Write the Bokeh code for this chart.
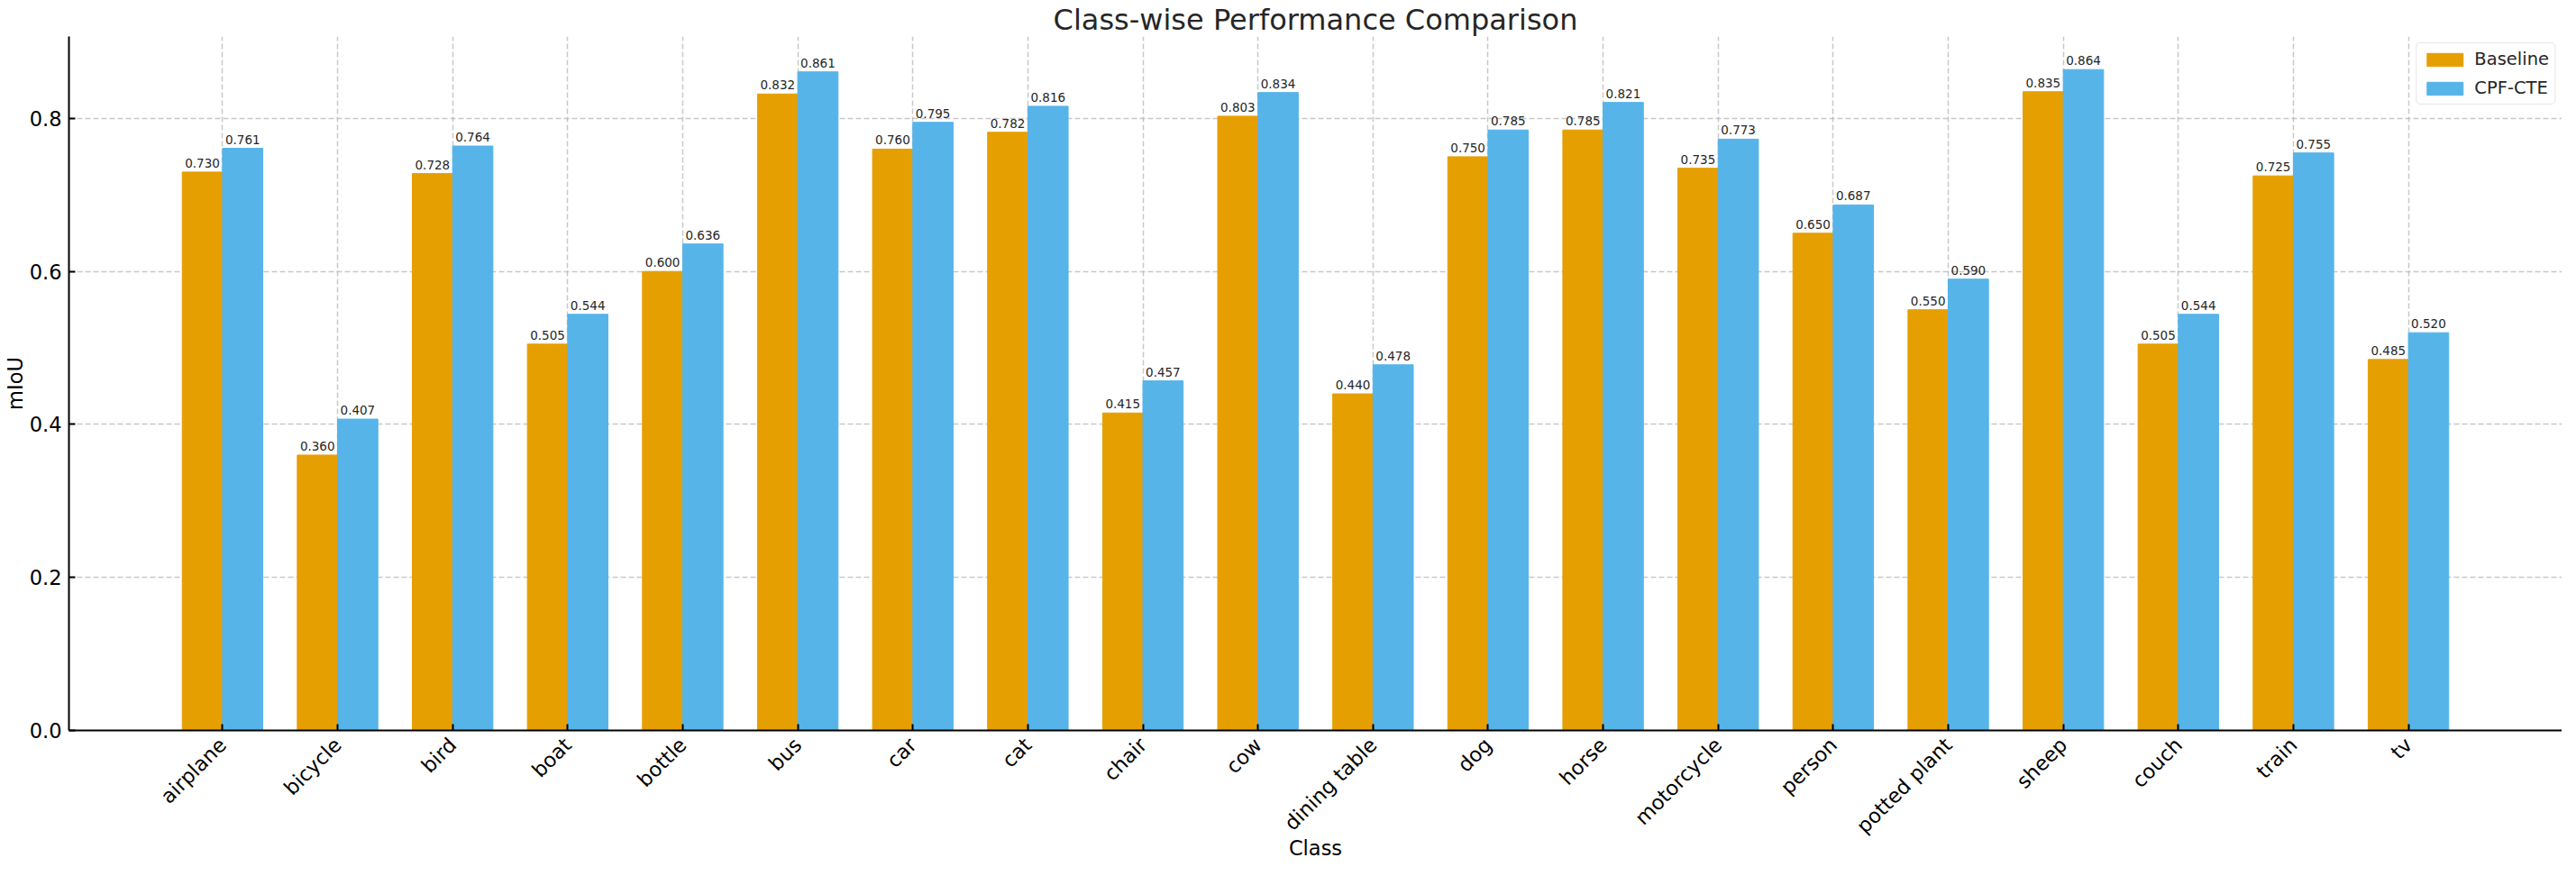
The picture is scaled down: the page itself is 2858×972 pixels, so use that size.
import math
import numpy as np
from bokeh.plotting import figure
from bokeh.models import (Range1d, FixedTicker, PrintfTickFormatter, Legend,
                          LegendItem, ColumnDataSource)
from bokeh.embed import file_html
from bokeh.resources import INLINE
from bokeh.core.properties import value

# ---------------- data ----------------
classes = ["airplane", "bicycle", "bird", "boat", "bottle", "bus", "car", "cat",
           "chair", "cow", "dining table", "dog", "horse", "motorcycle", "person",
           "potted plant", "sheep", "couch", "train", "tv"]
baseline = [0.730, 0.360, 0.728, 0.505, 0.600, 0.832, 0.760, 0.782, 0.415, 0.803,
            0.440, 0.750, 0.785, 0.735, 0.650, 0.550, 0.835, 0.505, 0.725, 0.485]
cpf_cte = [0.761, 0.407, 0.764, 0.544, 0.636, 0.861, 0.795, 0.816, 0.457, 0.834,
           0.478, 0.785, 0.821, 0.773, 0.687, 0.590, 0.864, 0.544, 0.755, 0.520]
y_ticks = [0.0, 0.2, 0.4, 0.6, 0.8]
series_names = ["Baseline", "CPF-CTE"]
series_colors = ["#E69F00", "#56B4E9"]

FONT = "DejaVu Sans"
bar_w = 0.35
idx = np.arange(len(classes))

src_b = ColumnDataSource(dict(x=idx - bar_w / 2, top=baseline,
                              label=[f"{v:.3f}" for v in baseline]))
src_c = ColumnDataSource(dict(x=idx + bar_w / 2, top=cpf_cte,
                              label=[f"{v:.3f}" for v in cpf_cte]))

lo = -bar_w
hi = len(classes) - 1 + bar_w
pad = 0.05 * (hi - lo)
ymax = max(max(baseline), max(cpf_cte)) * 1.05

p = figure(width=2842, height=956, output_backend="svg", toolbar_location=None,
           x_range=Range1d(lo - pad, hi + pad), y_range=Range1d(0, ymax),
           min_border_left=71, min_border_right=0, min_border_top=35,
           min_border_bottom=145)
p.background_fill_color = "white"
p.border_fill_color = "white"
p.outline_line_color = None

rb = p.vbar(x="x", top="top", width=bar_w, source=src_b,
            fill_color=series_colors[0], line_color=series_colors[0], line_width=1)
rc = p.vbar(x="x", top="top", width=bar_w, source=src_c,
            fill_color=series_colors[1], line_color=series_colors[1], line_width=1)

for src in (src_b, src_c):
    p.text(x="x", y="top", text="label", source=src, text_align="center",
           text_baseline="alphabetic", y_offset=-10, text_font_size="13.5px",
           text_font=value(FONT), text_color="#262626")

# title
p.title.text = "Class-wise Performance Comparison"
p.title.text_font = FONT
p.title.text_font_size = "32px"
p.title.text_font_style = "normal"
p.title.text_color = "#262626"
p.title.align = "center"
p.title.standoff = 0
p.title.offset = 0

# axes
p.xaxis.ticker = FixedTicker(ticks=[int(i) for i in idx])
p.xaxis.major_label_overrides = {int(i): c for i, c in zip(idx, classes)}
p.xaxis.major_label_orientation = math.pi / 4
p.yaxis.ticker = FixedTicker(ticks=y_ticks)
p.yaxis.formatter = PrintfTickFormatter(format="%.1f")

for ax in (p.xaxis[0], p.yaxis[0]):
    ax.axis_line_color = "black"
    ax.axis_line_width = 2
    ax.major_tick_line_color = "black"
    ax.major_tick_line_width = 2
    ax.major_tick_in = 7
    ax.major_tick_out = 0
    ax.minor_tick_line_color = None
    ax.major_label_text_font = FONT
    ax.major_label_text_font_size = "22.5px"
    ax.major_label_text_color = "black"
    ax.axis_label_text_font = FONT
    ax.axis_label_text_font_size = "22.5px"
    ax.axis_label_text_font_style = "normal"
    ax.axis_label_text_color = "black"

p.xaxis.axis_label = "Class"
p.yaxis.axis_label = "mIoU"
p.xaxis.major_label_standoff = 12
p.yaxis.major_label_standoff = 8
p.xaxis.axis_label_standoff = -14
p.yaxis.axis_label_standoff = 0

# grid
for g in (p.xgrid[0], p.ygrid[0]):
    g.grid_line_color = "#b0b0b0"
    g.grid_line_alpha = 0.7
    g.grid_line_width = 1.5
    g.grid_line_dash = "6 3"

# legend
legend = Legend(items=[LegendItem(label=series_names[0], renderers=[rb]),
                       LegendItem(label=series_names[1], renderers=[rc])],
                location="top_right", margin=7, padding=6, spacing=9,
                glyph_width=50, glyph_height=18, label_standoff=8,
                label_text_font=FONT, label_text_font_size="19.5px",
                label_text_color="#262626",
                border_line_color="#cccccc", border_line_width=1.5,
                background_fill_color="white", background_fill_alpha=0.8)
if "border_radius" in Legend.properties():
    legend.border_radius = 5
p.add_layout(legend)

open("out.html", "w").write(file_html(p, INLINE))
